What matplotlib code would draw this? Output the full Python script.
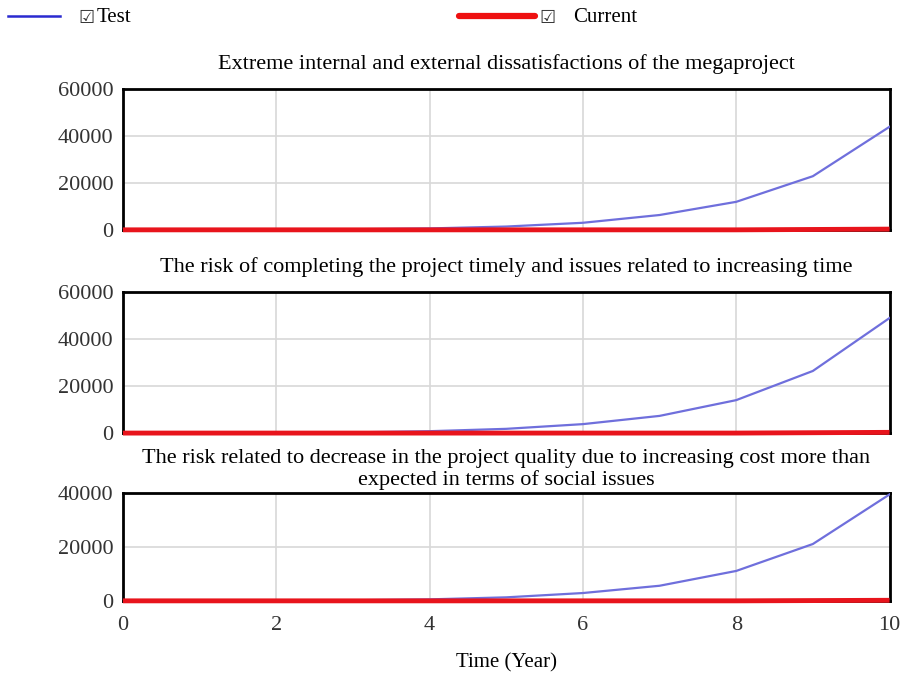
import matplotlib
matplotlib.use('Agg')
import matplotlib.pyplot as plt
from matplotlib.lines import Line2D

plt.rcParams['font.family'] = ['Liberation Serif', 'DejaVu Sans']

# Data (yearly points)
years = [0, 1, 2, 3, 4, 5, 6, 7, 8, 9, 10]
test_dissatisfaction = [20, 50, 100, 250, 600, 1400, 3000, 6300, 11900, 22800, 43800]
test_time_risk = [30, 60, 130, 300, 800, 1800, 3800, 7300, 14000, 26400, 48900]
test_quality_risk = [20, 40, 90, 220, 550, 1300, 2900, 5600, 11100, 21100, 39500]
current_dissatisfaction = [0, 0, 0, 0, 0, 0, 0, 0, 0, 150, 300]
current_time_risk = [0, 0, 0, 0, 0, 0, 0, 0, 0, 150, 300]
current_quality_risk = [0, 0, 0, 0, 0, 0, 0, 0, 0, 100, 200]

titles = [
    'Extreme internal and external dissatisfactions of the megaproject',
    'The risk of completing the project timely and issues related to increasing time',
    'The risk related to decrease in the project quality due to increasing cost more than\nexpected in terms of social issues',
]
title_pads = [14, 14, 6]
y_ticks = [[0, 20000, 40000, 60000], [0, 20000, 40000, 60000], [0, 20000, 40000]]
x_ticks = [0, 2, 4, 6, 8, 10]

test_series = [test_dissatisfaction, test_time_risk, test_quality_risk]
current_series = [current_dissatisfaction, current_time_risk, current_quality_risk]

fig = plt.figure(figsize=(9.04, 6.82), dpi=100)

# axes boxes in figure fractions (left, bottom, width, height)
boxes = [
    (0.136, 0.663, 0.848, 0.207),
    (0.136, 0.365, 0.848, 0.207),
    (0.136, 0.119, 0.848, 0.158),
]

test_color = '#6f6fdc'
current_color = '#e8141c'

for i in range(3):
    ax = fig.add_axes(boxes[i])
    ax.plot(years, test_series[i], color=test_color, lw=1.6, zorder=3)
    ax.plot(years, current_series[i], color=current_color, lw=3.5, zorder=4,
            clip_on=False, solid_capstyle='butt')
    ax.set_xlim(0, 10)
    ax.set_ylim(0, y_ticks[i][-1])
    ax.set_yticks(y_ticks[i])
    ax.set_xticks(x_ticks)
    ax.grid(True, color='#d8d8d8', lw=1.2)
    ax.tick_params(length=0, labelsize=16, labelcolor='#333333')
    ax.tick_params(axis='y', pad=7)
    ax.tick_params(axis='x', pad=11)
    if i < 2:
        ax.set_xticklabels([])
    for s in ax.spines.values():
        s.set_linewidth(2.0)
        s.set_color('black')
    ax.set_title(titles[i], fontsize=16, pad=title_pads[i], linespacing=1.15)

fig.text(0.56, 0.028, 'Time (Year)', ha='center', va='center', fontsize=15)

# legend strip at the top
fig.add_artist(Line2D([0.009, 0.066], [0.976, 0.976], color='#2a2ad0', lw=1.8))
fig.text(0.087, 0.974, '\u2611', family=['DejaVu Sans'], fontsize=13,
         ha='left', va='center', color='#333333')
fig.text(0.107, 0.974, 'Test', fontsize=15, ha='left', va='center')
fig.add_artist(Line2D([0.508, 0.592], [0.976, 0.976], color='#ee1010', lw=4.5,
                      solid_capstyle='round'))
fig.text(0.597, 0.974, '\u2611', family=['DejaVu Sans'], fontsize=13,
         ha='left', va='center', color='#333333')
fig.text(0.634, 0.974, 'Current', fontsize=15, ha='left', va='center')

plt.savefig('out.png', dpi=100)
